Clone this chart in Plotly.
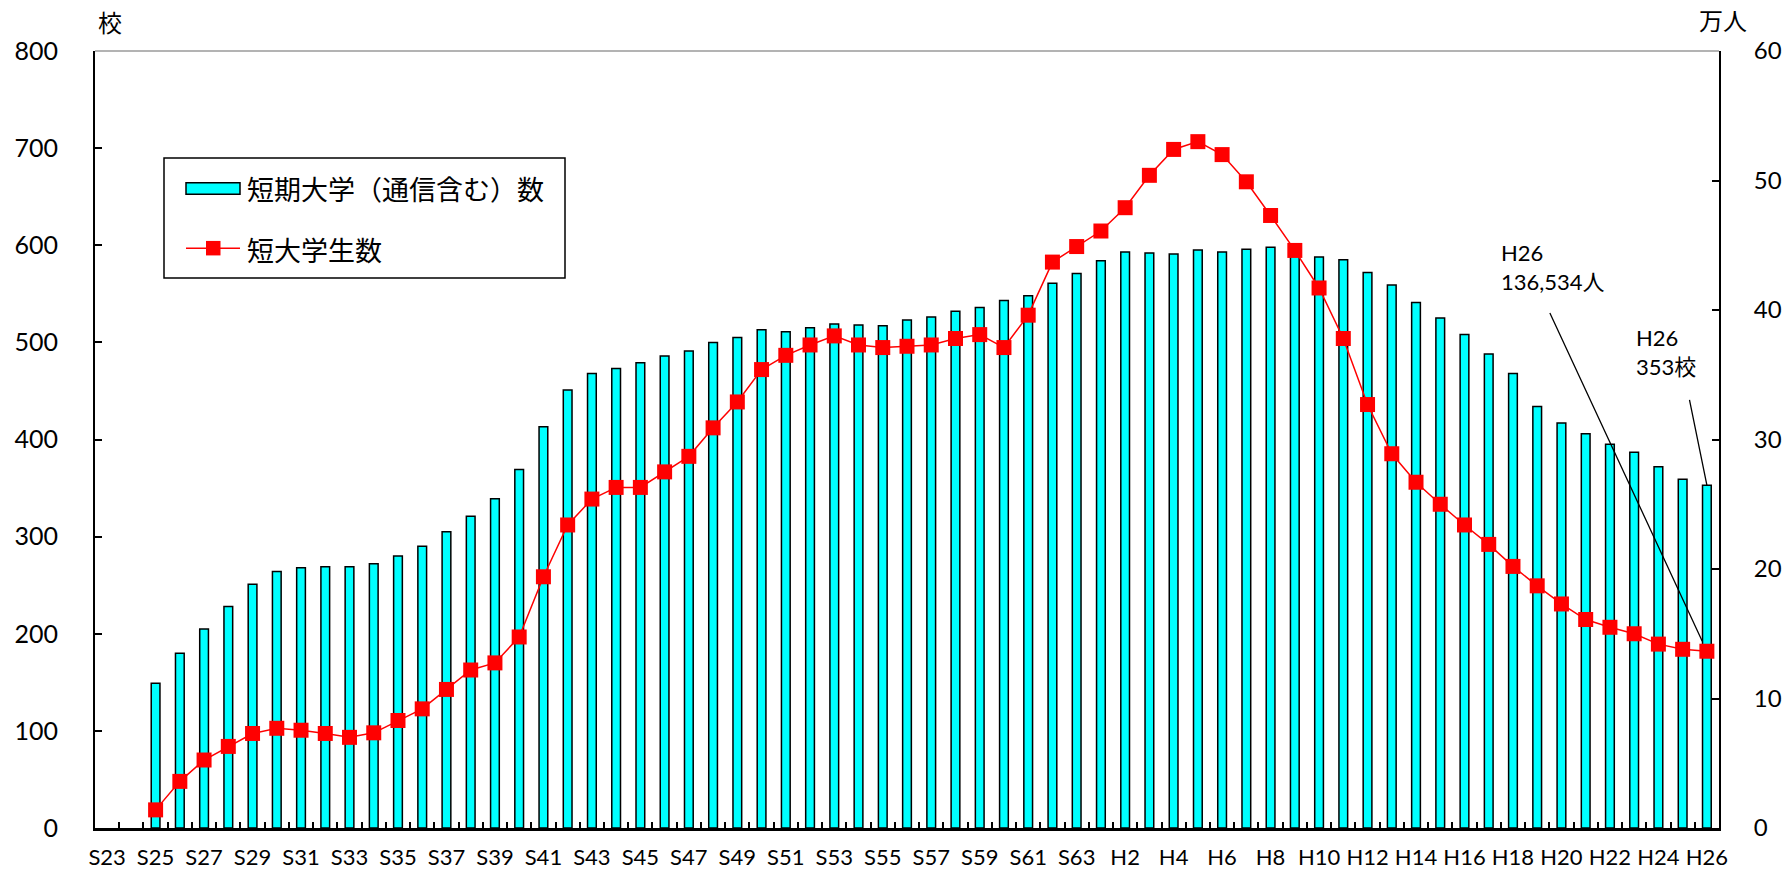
import plotly.graph_objects as go

# ---------------- data ----------------
years = [
    "S23", "S24", "S25", "S26", "S27", "S28", "S29", "S30", "S31", "S32",
    "S33", "S34", "S35", "S36", "S37", "S38", "S39", "S40", "S41", "S42",
    "S43", "S44", "S45", "S46", "S47", "S48", "S49", "S50", "S51", "S52",
    "S53", "S54", "S55", "S56", "S57", "S58", "S59", "S60", "S61", "S62",
    "S63", "H1", "H2", "H3", "H4", "H5", "H6", "H7", "H8", "H9",
    "H10", "H11", "H12", "H13", "H14", "H15", "H16", "H17", "H18", "H19",
    "H20", "H21", "H22", "H23", "H24", "H25", "H26",
]

# number of junior colleges (校), left axis
schools = [
    None, None, 149, 180, 205, 228, 251, 264, 268, 269,
    269, 272, 280, 290, 305, 321, 339, 369, 413, 451,
    468, 473, 479, 486, 491, 500, 505, 513, 511, 515,
    519, 518, 517, 523, 526, 532, 536, 543, 548, 561,
    571, 584, 593, 592, 591, 595, 593, 596, 598, 595,
    588, 585, 572, 559, 541, 525, 508, 488, 468, 434,
    417, 406, 395, 387, 372, 359, 353,
]

# number of junior college students (万人), right axis
students = [
    None, None, 1.4, 3.6, 5.25, 6.3, 7.3, 7.7, 7.55, 7.3,
    7.0, 7.35, 8.3, 9.2, 10.7, 12.2, 12.75, 14.75, 19.4, 23.4,
    25.4, 26.3, 26.3, 27.5, 28.7, 30.9, 32.9, 35.4, 36.5, 37.3,
    38.0, 37.3, 37.1, 37.2, 37.3, 37.8, 38.1, 37.1, 39.6, 43.7,
    44.9, 46.1, 47.9, 50.4, 52.4, 53.0, 52.0, 49.9, 47.3, 44.6,
    41.7, 37.8, 32.7, 28.9, 26.7, 25.0, 23.4, 21.9, 20.2, 18.7,
    17.3, 16.1, 15.5, 15.0, 14.2, 13.8, 13.65,
]

series_names = ["短期大学（通信含む）数", "短大学生数"]
left_unit = "校"
right_unit = "万人"
note_students = "H26<br>136,534人"
note_schools = "H26<br>353校"

# ---------------- layout geometry ----------------
W, H = 1789, 873
L, R, T, B = 95, 1719, 51, 828.3


def px(x):
    return (x - L) / (R - L)


def py(y):
    return (B - y) / (B - T)


LATIN = "Lato, 'Noto Sans CJK JP', sans-serif"
CJK = "'Noto Sans CJK JP', sans-serif"
CYAN = "#00FFFF"
RED = "#FF0000"

fig = go.Figure()
fig.add_trace(go.Bar(
    x=years, y=schools, name=series_names[0], yaxis="y",
    width=0.36,
    marker=dict(color=CYAN, line=dict(color="black", width=1.5)),
))
fig.add_trace(go.Scatter(
    x=years, y=students, name=series_names[1], yaxis="y2",
    mode="lines+markers",
    line=dict(color=RED, width=1.5),
    marker=dict(symbol="square", size=15, color=RED, line=dict(width=0)),
))

axis_common = dict(
    showgrid=False, zeroline=False, showline=True, linecolor="black",
    ticks="inside", tickcolor="black", tickwidth=1.5, automargin=False,
)

fig.update_layout(
    width=W, height=H,
    margin=dict(l=L, r=W - R, t=T, b=H - B, pad=0, autoexpand=False),
    paper_bgcolor="white", plot_bgcolor="white",
    showlegend=False,
    xaxis=dict(
        **axis_common,
        type="category", range=[-0.5, len(years) - 0.5],
        tickmode="linear", tick0=0, dtick=1,
        tickson="boundaries", ticklen=6, linewidth=2.5,
        ticklabelstep=2, tickangle=0,
        tickfont=dict(family=LATIN, size=22, color="black"),
        ticklabelstandoff=8,
    ),
    yaxis=dict(
        **axis_common,
        range=[0, 800], dtick=100, ticklen=7, linewidth=2,
        tickfont=dict(family=LATIN, size=25, color="black"),
        ticklabelstandoff=30,
    ),
    yaxis2=dict(
        **axis_common,
        overlaying="y", side="right",
        range=[0, 60], dtick=10, ticklen=7, linewidth=2,
        tickfont=dict(family=LATIN, size=24, color="black"),
        ticklabelstandoff=28,
    ),
)

shapes = [
    # grey top frame line
    dict(type="line", xref="paper", yref="paper", x0=0, x1=1, y0=1, y1=1,
         line=dict(color="#9a9a9a", width=1.5)),
    # legend box
    dict(type="rect", xref="paper", yref="paper",
         x0=px(164), x1=px(565), y0=py(278), y1=py(158),
         line=dict(color="black", width=1.5), fillcolor="white", layer="above"),
    # bar swatch
    dict(type="rect", xref="paper", yref="paper",
         x0=px(186), x1=px(240), y0=py(194.3), y1=py(182.7),
         line=dict(color="black", width=1.5), fillcolor=CYAN, layer="above"),
    # line swatch
    dict(type="line", xref="paper", yref="paper",
         x0=px(186), x1=px(240), y0=py(248.3), y1=py(248.3),
         line=dict(color=RED, width=1.5), layer="above"),
    dict(type="rect", xref="paper", yref="paper",
         x0=px(206), x1=px(220.5), y0=py(255.5), y1=py(241),
         line=dict(width=0), fillcolor=RED, layer="above"),
]
fig.update_layout(shapes=shapes)

annotations = [
    dict(text=series_names[0], xref="paper", yref="paper", x=px(245), y=py(189),
         xanchor="left", yanchor="middle", showarrow=False,
         font=dict(family=CJK, size=27, color="black")),
    dict(text=series_names[1], xref="paper", yref="paper", x=px(245), y=py(250),
         xanchor="left", yanchor="middle", showarrow=False,
         font=dict(family=CJK, size=27, color="black")),
    dict(text=left_unit, xref="paper", yref="paper", x=px(109.5), y=py(21),
         xanchor="center", yanchor="middle", showarrow=False,
         font=dict(family=CJK, size=24, color="black")),
    dict(text=right_unit, xref="paper", yref="paper", x=px(1723), y=py(19),
         xanchor="center", yanchor="middle", showarrow=False,
         font=dict(family=CJK, size=24, color="black")),
    dict(text=note_students, xref="paper", yref="paper", x=px(1499), y=py(267.5),
         xanchor="left", yanchor="middle", align="left", showarrow=False,
         font=dict(family=LATIN, size=22, color="black")),
    dict(text=note_schools, xref="paper", yref="paper", x=px(1634), y=py(352.5),
         xanchor="left", yanchor="middle", align="left", showarrow=False,
         font=dict(family=LATIN, size=22, color="black")),
    # leader lines
    dict(text="", x=years[-1], y=students[-1], xref="x", yref="y2",
         ax=-157.7, ay=-339.8, axref="pixel", ayref="pixel",
         showarrow=True, arrowhead=0, arrowwidth=1.3, arrowcolor="black",
         standoff=11),
    dict(text="", x=years[-1], y=schools[-1], xref="x", yref="y",
         ax=-17.7, ay=-86.7, axref="pixel", ayref="pixel",
         showarrow=True, arrowhead=0, arrowwidth=1.3, arrowcolor="black",
         standoff=0),
]
fig.update_layout(annotations=annotations)

fig.write_html("out.html", config={"displayModeBar": False},
               post_script="document.body.style.margin='0';")
